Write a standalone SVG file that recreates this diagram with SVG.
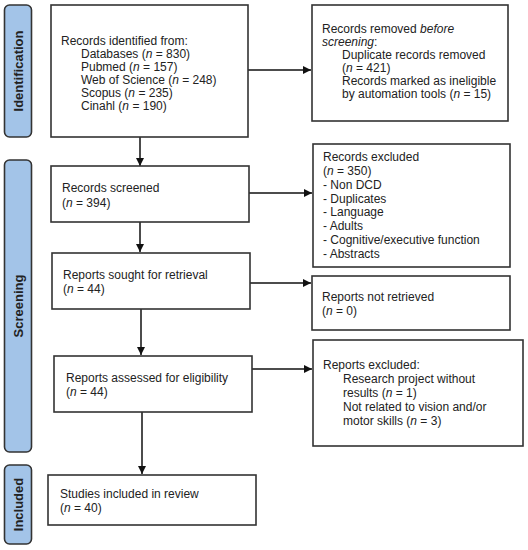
<svg xmlns="http://www.w3.org/2000/svg" width="528" height="550" viewBox="0 0 528 550">
<style>
  .box { fill: #ffffff; stroke: #333333; stroke-width: 1.6; }
  .bar { fill: #a3c4e8; stroke: #333333; stroke-width: 1.6; }
  .bartxt { font-family: "Liberation Sans", Arial, sans-serif; font-size: 13px; font-weight: bold; fill: #222222; text-anchor: middle; }
  text { font-family: "Liberation Sans", Arial, sans-serif; font-size: 12px; fill: #222222; }
  .conn { stroke: #111111; stroke-width: 1.5; fill: none; marker-end: url(#arr); }
</style>
<defs>
  <marker id="arr" viewBox="0 0 8 8" refX="8" refY="4" markerWidth="8" markerHeight="8" markerUnits="userSpaceOnUse" orient="auto">
    <path d="M0,0 L8,4 L0,8 z" fill="#111111"/>
  </marker>
</defs>
<rect width="528" height="550" fill="#ffffff"/>

<g id="bar-identification">
  <rect class="bar" x="4.5" y="5" width="27" height="132" rx="5"/>
  <text class="bartxt" transform="translate(22.5,71) rotate(-90)">Identification</text>
</g>
<g id="bar-screening">
  <rect class="bar" x="4.5" y="160" width="27" height="292" rx="5"/>
  <text class="bartxt" transform="translate(22.5,306) rotate(-90)">Screening</text>
</g>
<g id="bar-included">
  <rect class="bar" x="4.5" y="465" width="27" height="79" rx="5"/>
  <text class="bartxt" transform="translate(22.5,504.5) rotate(-90)">Included</text>
</g>

<g id="connectors">
  <path class="conn" d="M248,70 H311"/>
  <path class="conn" d="M140,137 V166"/>
  <path class="conn" d="M249,193 H312"/>
  <path class="conn" d="M140,222 V252"/>
  <path class="conn" d="M250,283 H311"/>
  <path class="conn" d="M141,309 V355"/>
  <path class="conn" d="M252,369 H312"/>
  <path class="conn" d="M142,412 V474"/>
</g>

<g id="records-identified">
  <rect class="box" x="51" y="5" width="197" height="132"/>
  <text x="61" y="45">Records identified from:</text>
  <text x="81" y="58">Databases (<tspan font-style="italic">n</tspan> = 830)</text>
  <text x="81" y="71">Pubmed (<tspan font-style="italic">n</tspan> = 157)</text>
  <text x="81" y="84">Web of Science (<tspan font-style="italic">n</tspan> = 248)</text>
  <text x="81" y="97">Scopus (<tspan font-style="italic">n</tspan> = 235)</text>
  <text x="81" y="110">Cinahl (<tspan font-style="italic">n</tspan> = 190)</text>
</g>

<g id="records-removed">
  <rect class="box" x="312" y="5" width="196" height="116"/>
  <text x="322" y="33">Records removed <tspan font-style="italic">before</tspan></text>
  <text x="322" y="46"><tspan font-style="italic">screening</tspan>:</text>
  <text x="342" y="59">Duplicate records removed</text>
  <text x="342" y="72">(<tspan font-style="italic">n</tspan> = 421)</text>
  <text x="342" y="85">Records marked as ineligible</text>
  <text x="342" y="98">by automation tools (<tspan font-style="italic">n</tspan> = 15)</text>
</g>

<g id="records-screened">
  <rect class="box" x="51" y="166" width="198" height="56"/>
  <text x="62" y="192">Records screened</text>
  <text x="62" y="207">(<tspan font-style="italic">n</tspan> = 394)</text>
</g>

<g id="records-excluded">
  <rect class="box" x="313" y="144" width="197" height="123"/>
  <text x="323" y="161">Records excluded</text>
  <text x="323" y="175">(<tspan font-style="italic">n</tspan> = 350)</text>
  <text x="323" y="189">- Non DCD</text>
  <text x="323" y="203">- Duplicates</text>
  <text x="323" y="216">- Language</text>
  <text x="323" y="230">- Adults</text>
  <text x="323" y="244">- Cognitive/executive function</text>
  <text x="323" y="258">- Abstracts</text>
</g>

<g id="reports-sought">
  <rect class="box" x="52" y="253" width="198" height="56"/>
  <text x="63" y="279">Reports sought for retrieval</text>
  <text x="63" y="293">(<tspan font-style="italic">n</tspan> = 44)</text>
</g>

<g id="reports-not-retrieved">
  <rect class="box" x="312" y="276" width="198" height="54"/>
  <text x="322" y="301">Reports not retrieved</text>
  <text x="322" y="315">(<tspan font-style="italic">n</tspan> = 0)</text>
</g>

<g id="reports-assessed">
  <rect class="box" x="54" y="356" width="198" height="56"/>
  <text x="66" y="382">Reports assessed for eligibility</text>
  <text x="66" y="396">(<tspan font-style="italic">n</tspan> = 44)</text>
</g>

<g id="reports-excluded">
  <rect class="box" x="313" y="340" width="210" height="106"/>
  <text x="323" y="369">Reports excluded:</text>
  <text x="343" y="383">Research project without</text>
  <text x="343" y="397">results (<tspan font-style="italic">n</tspan> = 1)</text>
  <text x="343" y="411">Not related to vision and/or</text>
  <text x="343" y="425">motor skills (<tspan font-style="italic">n</tspan> = 3)</text>
</g>

<g id="studies-included">
  <rect class="box" x="48" y="475" width="208" height="50"/>
  <text x="60" y="498">Studies included in review</text>
  <text x="60" y="512">(<tspan font-style="italic">n</tspan> = 40)</text>
</g>
</svg>
